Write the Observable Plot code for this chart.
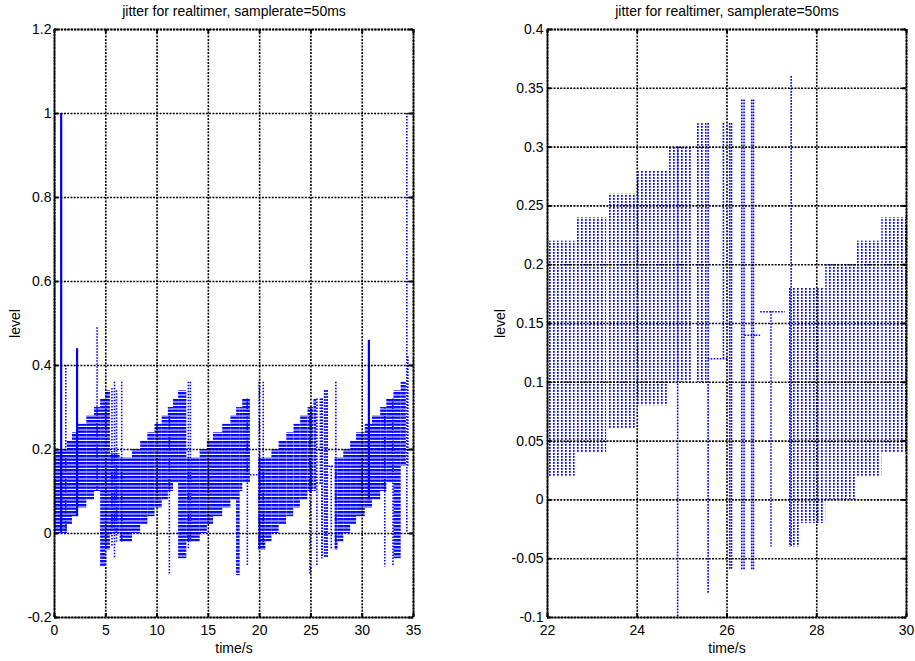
<!DOCTYPE html>
<html><head><meta charset="utf-8">
<script src="https://cdn.jsdelivr.net/npm/d3@7"></script>
<script src="https://cdn.jsdelivr.net/npm/@observablehq/plot@0.6"></script>
<style>
body{margin:0;background:#fff;}
#wrap{position:relative;width:915px;height:661px;overflow:hidden;background:#fff;}
#left{position:absolute;left:0;top:0;}
#right{position:absolute;left:457px;top:0;}
</style></head><body>
<svg width="0" height="0" style="position:absolute">
<defs>
<pattern id="hstripe" patternUnits="userSpaceOnUse" width="4" height="3.5"><rect x="0" y="0" width="4" height="2.4" fill="#0000ff"/></pattern>
<pattern id="vdots" patternUnits="userSpaceOnUse" width="4" height="3"><rect x="0" y="0" width="1.7" height="1.8" fill="#0000ff"/></pattern>
</defs></svg>
<div id="wrap"><div id="left"></div><div id="right"></div></div>
<script>
// ---- data (time in s, level) ----
// jitter blocks: the signal swings between blockHigh and blockLow from blockStart to blockEnd
const blockStart = [0.00,1.25,1.75,2.25,3.15,3.90,4.50,5.00,5.45,6.40,7.60,8.40,9.10,9.80,10.50,11.10,11.60,12.10,12.90,13.30,14.20,14.90,15.50,16.40,17.20,17.75,18.10,18.35,19.90,20.60,21.20,21.90,22.65,23.35,24.00,24.72,25.30,27.35,27.65,28.20,28.87,29.45,30.30,31.00,31.80,32.40,33.10,33.80];
const blockEnd   = [1.25,1.75,2.25,3.15,3.90,4.50,5.00,5.45,6.40,7.60,8.40,9.10,9.80,10.50,11.10,11.60,12.10,12.90,13.30,14.20,14.90,15.50,16.40,17.20,17.75,18.10,18.35,19.10,20.60,21.20,21.90,22.62,23.32,23.97,24.70,25.25,25.56,27.65,28.20,28.87,29.45,30.30,31.00,31.80,32.40,33.10,33.80,34.30];
const blockHigh  = [0.20,0.22,0.24,0.26,0.28,0.30,0.32,0.34,0.19,0.18,0.20,0.22,0.24,0.26,0.28,0.30,0.32,0.34,0.18,0.18,0.20,0.22,0.24,0.26,0.28,0.30,0.30,0.32,0.18,0.18,0.20,0.22,0.24,0.26,0.28,0.30,0.32,0.18,0.18,0.20,0.22,0.24,0.26,0.28,0.30,0.32,0.34,0.36];
const blockLow   = [0.00,0.02,0.04,0.06,0.08,0.10,-0.08,-0.04,0.00,-0.02,0.00,0.02,0.04,0.06,0.08,0.10,0.12,-0.06,-0.02,-0.02,0.00,0.02,0.04,0.06,0.08,-0.10,0.10,0.12,-0.04,-0.02,0.00,0.02,0.04,0.06,0.08,0.10,0.10,-0.04,-0.02,0.00,0.02,0.04,0.06,0.08,0.10,0.12,-0.06,0.16];

// single dotted strokes (outliers)
const spikeTime   = [0.02,1.10,4.15,5.60,5.85,6.05,6.55,11.20,13.05,13.25,18.80,19.95,20.35,24.90,25.58,25.92,26.06,26.10,26.33,26.38,26.55,26.59,26.98,27.43,32.20,33.00,34.35,34.45];
const spikeHigh   = [1.00,0.40,0.49,0.345,0.36,0.34,0.36,0.30,0.36,0.36,0.32,0.36,0.36,0.30,0.32,0.32,0.32,0.32,0.34,0.34,0.34,0.34,0.16,0.36,0.30,0.32,1.00,0.42];
const spikeLow    = [0.00,0.00,0.10,-0.03,-0.06,-0.02,-0.02,-0.10,-0.04,-0.02,-0.08,-0.04,-0.03,-0.10,-0.08,0.12,-0.06,-0.06,-0.06,-0.06,-0.06,-0.06,-0.04,-0.04,-0.08,-0.08,0.00,0.16];

// bunched strokes that look solid
const burstTime = [0.65,2.20,30.65];
const burstHigh = [1.00,0.44,0.46];
const burstLow  = [0.00,0.04,0.08];

// flat stretches
const flatStart = [19.10,25.58,26.40,26.65,26.75];
const flatEnd   = [19.85,26.02,26.65,26.75,27.30];
const flatLevel = [0.14,0.12,0.14,0.14,0.16];

// axes
const titleText = "jitter for realtimer, samplerate=50ms";
const xLabelText = "time/s";
const yLabelText = "level";
const leftXTicks = [0,5,10,15,20,25,30,35];
const leftXLabels = ["0","5","10","15","20","25","30","35"];
const leftYTicks = [-0.2,0,0.2,0.4,0.6,0.8,1,1.2];
const leftYLabels = ["-0.2","0","0.2","0.4","0.6","0.8","1","1.2"];
const rightXTicks = [22,24,26,28,30];
const rightXLabels = ["22","24","26","28","30"];
const rightYTicks = [-0.1,-0.05,0,0.05,0.1,0.15,0.2,0.25,0.3,0.35,0.4];
const rightYLabels = ["-0.1","-0.05","0","0.05","0.1","0.15","0.2","0.25","0.3","0.35","0.4"];

// ---- tables ----
const blocks = blockStart.map((t0, i) => ({t0, t1: blockEnd[i], hi: blockHigh[i], lo: blockLow[i]}));
const spikes = spikeTime.map((t, i) => ({t, hi: spikeHigh[i], lo: spikeLow[i]}));
const bursts = burstTime.map((t, i) => ({t, hi: burstHigh[i], lo: burstLow[i]}));
const flats = flatStart.map((t0, i) => ({t0, t1: flatEnd[i], v: flatLevel[i]}));

const H = 661, MT = 29, MB = 44;
const FH = H - MT - MB;
const BLUE = "#0000ff";

function panel(o) {
  const FW = o.width - o.ml - o.mr;
  const xl = new Map(o.xTicks.map((d, i) => [d, o.xLabels[i]]));
  const yl = new Map(o.yTicks.map((d, i) => [d, o.yLabels[i]]));
  const gridStyle = {stroke: "black", strokeOpacity: 1, strokeWidth: 1.6, strokeDasharray: "2,1.3"};
  return Plot.plot({
    width: o.width, height: H,
    marginLeft: o.ml, marginRight: o.mr, marginTop: MT, marginBottom: MB,
    x: {domain: o.xDomain, axis: null},
    y: {domain: o.yDomain, axis: null},
    style: {fontFamily: "'Liberation Sans', Arial, Helvetica, sans-serif", fontSize: "14px", color: "black", background: "white"},
    marks: [
      Plot.rect(blocks, {x1: "t0", x2: "t1", y1: "lo", y2: "hi", fill: o.fill, clip: true}),
      Plot.ruleY(flats, {x1: "t0", x2: "t1", y: "v", stroke: BLUE, strokeWidth: 1.6, strokeDasharray: o.dash, clip: true}),
      Plot.ruleX(spikes, {x: "t", y1: "hi", y2: "lo", stroke: BLUE, strokeWidth: 1.6, strokeDasharray: o.dash, clip: true}),
      Plot.ruleX(bursts, {x: "t", y1: "hi", y2: "lo", stroke: BLUE, strokeWidth: 2.2, clip: true}),
      Plot.gridX(o.xTicks, gridStyle),
      Plot.gridY(o.yTicks, gridStyle),
      Plot.frame({stroke: "black", strokeWidth: 2, strokeDasharray: "2,1.3"}),
      Plot.ruleX(o.xTicks, {x: d => d, insetTop: FH - 4, stroke: "black", strokeWidth: 2}),
      Plot.ruleX(o.xTicks, {x: d => d, insetBottom: FH - 4, stroke: "black", strokeWidth: 2}),
      Plot.ruleY(o.yTicks, {y: d => d, insetRight: FW - 4, stroke: "black", strokeWidth: 2}),
      Plot.ruleY(o.yTicks, {y: d => d, insetLeft: FW - 4, stroke: "black", strokeWidth: 2}),
      Plot.axisX(o.xTicks, {tickSize: 0, tickPadding: 8, tickFormat: d => xl.get(d), label: null, fontSize: 14}),
      Plot.axisY(o.yTicks, {tickSize: 0, tickPadding: o.ypad, tickFormat: d => yl.get(d), label: null, fontSize: 14}),
      Plot.text([titleText], {frameAnchor: "top", lineAnchor: "bottom", dy: -14, fontSize: 14}),
      Plot.text([xLabelText], {frameAnchor: "bottom", lineAnchor: "bottom", dy: 35, fontSize: 14}),
      Plot.text([yLabelText], {frameAnchor: "left", textAnchor: "middle", rotate: -90, dx: o.ydx, fontSize: 14})
    ]
  });
}

document.getElementById("left").append(panel({
  width: 457, ml: 54, mr: 44, xDomain: [0, 35], yDomain: [-0.2, 1.2],
  xTicks: leftXTicks, xLabels: leftXLabels, yTicks: leftYTicks, yLabels: leftYLabels,
  fill: "url(#hstripe)", dash: "1.5,1.5", ypad: 3, ydx: -39
}));
document.getElementById("right").append(panel({
  width: 458, ml: 90, mr: 9, xDomain: [22, 30], yDomain: [-0.1, 0.4],
  xTicks: rightXTicks, xLabels: rightXLabels, yTicks: rightYTicks, yLabels: rightYLabels,
  fill: "url(#vdots)", dash: "1.6,1.4", ypad: 4, ydx: -47
}));
</script>
</body></html>
